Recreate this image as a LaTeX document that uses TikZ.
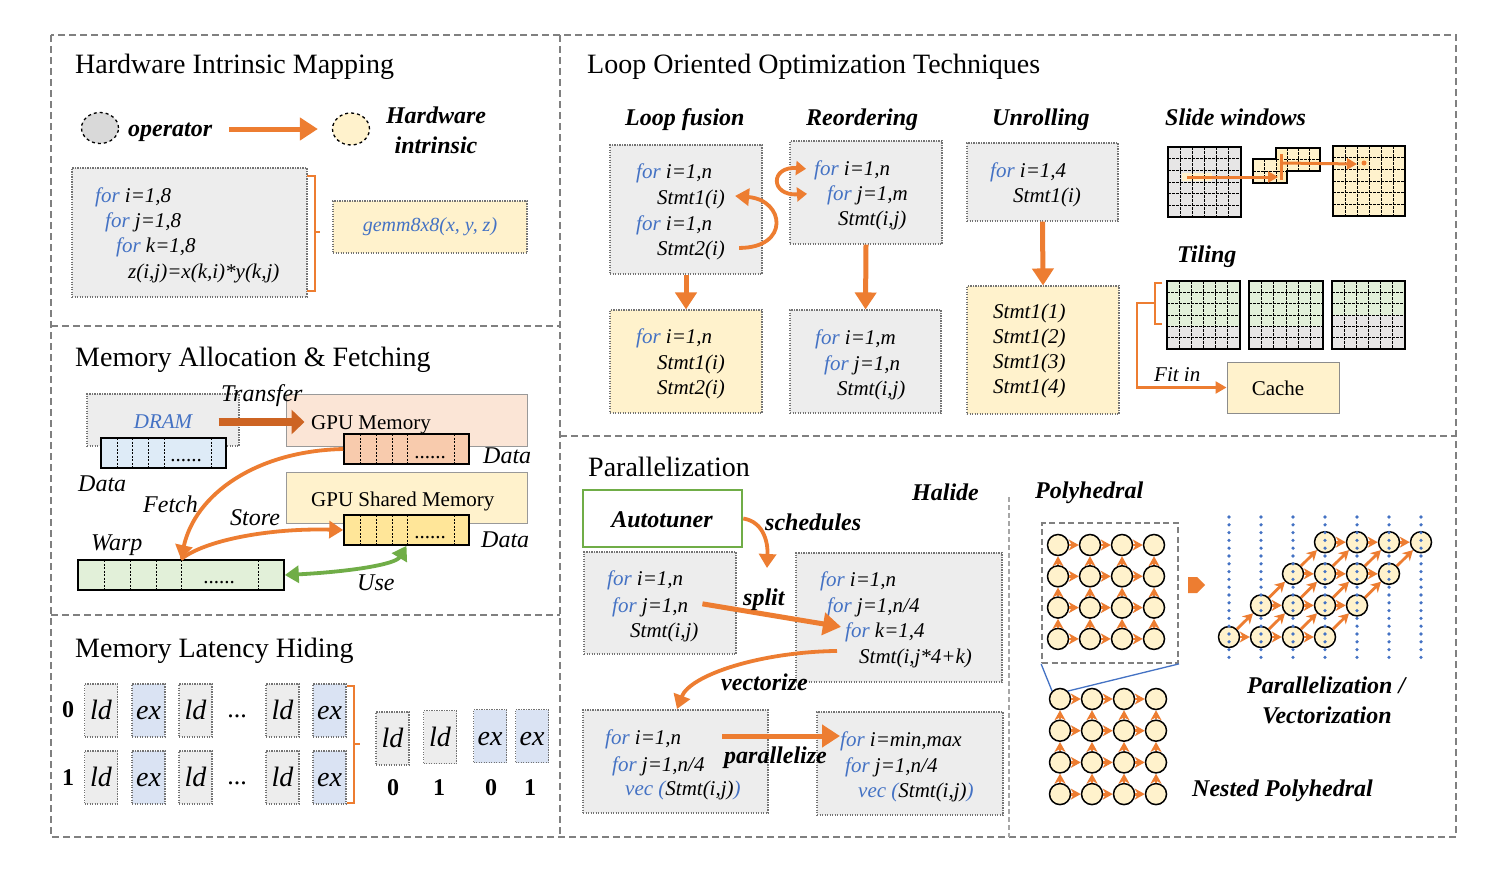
\documentclass[tikz,border=0pt]{standalone}
\usepackage{fontspec}
\setmainfont{Liberation Serif}
\usetikzlibrary{arrows.meta,shapes.geometric,calc}
\definecolor{orng}{RGB}{237,125,49}
\definecolor{kwblue}{RGB}{68,114,196}
\definecolor{boxgray}{RGB}{237,237,237}
\definecolor{ylw}{RGB}{255,242,204}
\definecolor{exblue}{RGB}{218,227,243}
\definecolor{dramblue}{RGB}{222,235,247}
\definecolor{grn}{RGB}{112,173,71}
\definecolor{grnfill}{RGB}{226,240,217}
\definecolor{peach}{RGB}{251,229,214}
\definecolor{peachdk}{RGB}{248,203,173}
\definecolor{ylwdk}{RGB}{255,230,153}
\definecolor{framegray}{RGB}{128,128,128}
\definecolor{opgray}{RGB}{217,217,217}
\definecolor{trbrown}{RGB}{205,100,35}
\definecolor{gridgray}{RGB}{231,230,230}
\definecolor{dotblue}{RGB}{68,114,196}
\newcommand\kw[1]{\textcolor{kwblue}{#1}}
\newcommand\gridcells[4]{%
  \foreach \k in {1,...,5} {
    \draw[gridline] ({#1+(#3-#1)*\k/6},#2) -- ({#1+(#3-#1)*\k/6},#4);
    \draw[gridline] (#1,{#2+(#4-#2)*\k/6}) -- (#3,{#2+(#4-#2)*\k/6});
  }
  \draw[line width=1.8pt] (#1,#2) rectangle (#3,#4);
}
\tikzset{
  frame/.style={draw=framegray, line width=2.4pt, dash pattern=on 7pt off 4pt},
  codebox/.style={draw=black!55, line width=1.1pt, dash pattern=on 1.2pt off 1.3pt, fill=boxgray, inner sep=0pt},
  ttl/.style={font=\fontsize{28}{32}\selectfont, inner sep=0pt, anchor=base west},
  hdr/.style={font=\fontsize{24}{28}\selectfont\bfseries\itshape, inner sep=0pt, anchor=base west},
  code/.style={font=\fontsize{21}{25}\selectfont\itshape, inner sep=0pt, anchor=base west},
  lbl/.style={font=\fontsize{24}{28}\selectfont\itshape, inner sep=0pt, anchor=base west},
  plain/.style={font=\fontsize{21}{25}\selectfont, inner sep=0pt, anchor=base west},
  dots/.style={font=\fontsize{21}{25}\selectfont, inner sep=0pt, anchor=base},
  arr/.style={draw=black, line width=1.6pt, inner sep=0pt},
  divider/.style={line width=0.9pt, dash pattern=on 2pt off 1.5pt},
  gridline/.style={line width=0.8pt, dash pattern=on 2.5pt off 1.5pt},
  bigarrow/.style={draw=orng, line width=5pt, -{Triangle[length=18pt,width=22pt]}},
  midarrow/.style={draw=orng, line width=3.8pt, -{Triangle[length=14pt,width=17pt]}},
  lbox/.style={codebox, minimum width=33pt, minimum height=53pt, font=\fontsize{28}{32}\selectfont\itshape, text height=18pt, text depth=0pt},
  circ/.style={circle, draw=black, line width=1.5pt, fill=ylw, minimum size=21pt, inner sep=0pt},
  parr/.style={draw=orng, line width=2.8pt, -{Stealth[length=10pt,width=11pt,inset=3pt]}},
  memb/.style={draw=black!40, line width=1pt, inner sep=0pt},
  dotline/.style={draw=dotblue, line width=3.6pt, dash pattern=on 0pt off 7.8pt, line cap=round},
  bluelink/.style={draw=kwblue, line width=1.3pt},
  brk/.style={draw=orng, line width=2.5pt},
}
\begin{document}
\begin{tikzpicture}[x=1pt,y=-1pt]
\useasboundingbox (0,0) rectangle (1506,870);
\fill[white] (0,0) rectangle (1506,870);

% ---------- frames ----------
\draw[frame] (51,35) rectangle (1456,837);
\draw[frame] (560,35) -- (560,837);
\draw[frame] (51,326) -- (560,326);
\draw[frame] (51,615) -- (560,615);
\draw[frame] (560,436) -- (1456,436);
\draw[draw=black!35, line width=1.2pt, dash pattern=on 5pt off 3pt] (1009,497) -- (1009,837);

% ---------- Hardware Intrinsic Mapping ----------
\node[ttl] (t1) at (75,73) {Hardware Intrinsic Mapping};
\node[ellipse, draw, dashed, line width=1.3pt, fill=opgray, minimum width=37pt, minimum height=31pt, inner sep=0pt] (op) at (100,128) {};
\node[hdr] (optxt) at (128,136) {operator};
\node[ellipse, draw, dashed, line width=1.3pt, fill=ylw, minimum width=37pt, minimum height=32pt, inner sep=0pt] (hw) at (351,129) {};
\node[hdr, anchor=base] (hwtxt1) at (436,123) {Hardware};
\node[hdr, anchor=base] (hwtxt2) at (436,153) {intrinsic};
\draw[bigarrow] ($(optxt.east |- hw.west)+(17,0)$) -- ($(hw.west)+(-14,0)$);

\node[codebox, minimum width=235pt, minimum height=129pt] (cb1) at (189.5,232.5) {};
\node[code] (c1a) at (95,202) {\kw{for} i=1,8};
\node[code] (c1b) at (105,227) {\kw{for} j=1,8};
\node[code] (c1c) at (116,252) {\kw{for} k=1,8};
\node[code] (c1d) at (128,278) {z(i,j)=x(k,i)*y(k,j)};
\draw[brk] (307,176) -- (315,176) -- (315,291) -- (307,291) (315,232) -- (320,232);
\node[codebox, fill=ylw, minimum width=194pt, minimum height=52pt, font=\fontsize{20}{24}\selectfont\itshape, text=kwblue] (gemm) at (430,227) {gemm8x8(x, y, z)};

% ---------- Memory Allocation & Fetching ----------
\node[ttl] (t2) at (75,366) {Memory Allocation \& Fetching};
\node[codebox, minimum width=152pt, minimum height=52pt] (dram) at (163,420) {};
\node[font=\fontsize{21}{25}\selectfont\itshape, text=kwblue, inner sep=0pt, anchor=base] (dramtxt) at (163,428) {DRAM};
\node[arr, fill=dramblue, minimum width=125pt, minimum height=30pt] (dramdata) at (163.5,453) {};
\foreach \x in {117,132,148,164,211} \draw[divider] (\x,438) -- (\x,468);
\node[dots] (dramdots) at (186,461) {......};

\node[memb, fill=peach, minimum width=241pt, minimum height=52pt] (gpumem) at (406.5,420) {};
\node[plain] (gpumemtxt) at (311,429) {GPU Memory};
\node[arr, fill=peachdk, minimum width=125pt, minimum height=30pt] (gpudata) at (406.5,449) {};
\foreach \x in {360,376,392,407,454} \draw[divider] (\x,434) -- (\x,464);
\node[dots] (gpudots) at (430,458) {......};

\node[memb, fill=ylw, minimum width=241pt, minimum height=51pt] (shmem) at (406.5,497.5) {};
\node[plain] (shmemtxt) at (311,506) {GPU Shared Memory};
\node[arr, fill=ylwdk, minimum width=125pt, minimum height=30pt] (sdata) at (406.5,530) {};
\foreach \x in {360,376,392,407,454} \draw[divider] (\x,515) -- (\x,545);
\node[dots] (sdots) at (430,538) {......};

\node[arr, fill=grnfill, minimum width=206pt, minimum height=30pt] (warp) at (181,575) {};
\foreach \x in {104,130,156,181,258} \draw[divider] (\x,560) -- (\x,590);
\node[dots] (warpdots) at (219,583) {......};

\draw[line width=8pt, draw=trbrown, -{Triangle[length=13pt,width=24pt]}] ($(dram.east)+(-21,2)$) -- ($(gpumem.west)+(19,2)$);
\draw[midarrow] (gpudata.west) .. controls (255,451) and (195,495) .. (warp.north);
\draw[midarrow] (warp.north) .. controls (205,540) and (270,528) .. (sdata.west);
\draw[draw=grn, line width=3.8pt, {Triangle[length=14pt,width=17pt]}-{Triangle[length=14pt,width=17pt]}] (warp.east) .. controls (345,572) and (395,565) .. (sdata.south);

\node[lbl] (transfer) at (221,401) {Transfer};
\node[lbl] (data1) at (483,463) {Data};
\node[lbl] (data0) at (78,491) {Data};
\node[lbl] (data2) at (481,547) {Data};
\node[lbl] (fetch) at (143,512) {Fetch};
\node[lbl] (store) at (230,525) {Store};
\node[lbl] (warptxt) at (91,550) {Warp};
\node[lbl] (use) at (357,590) {Use};

% ---------- Memory Latency Hiding ----------
\node[ttl] (t3) at (75,657) {Memory Latency Hiding};
\node[lbox] (l0a) at (101,710.5) {ld};
\node[lbox, fill=exblue] (l0b) at (148.5,710.5) {ex};
\node[lbox] (l0c) at (195.5,710.5) {ld};
\node[lbox] (l0d) at (282.5,710.5) {ld};
\node[lbox, fill=exblue] (l0e) at (329.5,710.5) {ex};
\node[lbox] (l1a) at (101,777.5) {ld};
\node[lbox, fill=exblue] (l1b) at (148.5,777.5) {ex};
\node[lbox] (l1c) at (195.5,777.5) {ld};
\node[lbox] (l1d) at (282.5,777.5) {ld};
\node[lbox, fill=exblue] (l1e) at (329.5,777.5) {ex};
\node[dots, font=\fontsize{26}{30}\selectfont] (ell0) at (237,717) {...};
\node[dots, font=\fontsize{26}{30}\selectfont] (ell1) at (237,784) {...};
\node[dots, font=\fontsize{24}{28}\selectfont\bfseries] (row0) at (68,717) {0};
\node[dots, font=\fontsize{24}{28}\selectfont\bfseries] (row1) at (68,785) {1};
\draw[brk] (347,686) -- (354,686) -- (354,803) -- (347,803) (354,744) -- (360,744);
\node[lbox] (r0) at (392.5,738.5) {ld};
\node[lbox] (r1) at (440,737) {ld};
\node[lbox, fill=exblue] (r2) at (490,736) {ex};
\node[lbox, fill=exblue] (r3) at (532,736) {ex};
\node[dots, font=\fontsize{24}{28}\selectfont\bfseries] (n0) at (393,795) {0};
\node[dots, font=\fontsize{24}{28}\selectfont\bfseries] (n1) at (439,795) {1};
\node[dots, font=\fontsize{24}{28}\selectfont\bfseries] (n2) at (491,795) {0};
\node[dots, font=\fontsize{24}{28}\selectfont\bfseries] (n3) at (530,795) {1};

% ---------- Loop Oriented Optimization Techniques ----------
\node[ttl] (t4) at (587,73) {Loop Oriented Optimization Techniques};
\node[hdr] (hlf) at (625,125) {Loop fusion};
\node[hdr] (hro) at (806,125) {Reordering};
\node[hdr] (hun) at (992,125) {Unrolling};
\node[hdr] (hsw) at (1165,125) {Slide windows};
\node[hdr] (hti) at (1177,262) {Tiling};

\node[codebox, minimum width=152pt, minimum height=129pt] (lf1) at (686,209.5) {};
\node[code] (lf1a) at (636,178) {\kw{for} i=1,n};
\node[code] (lf1b) at (657,204) {Stmt1(i)};
\node[code] (lf1c) at (636,230) {\kw{for} i=1,n};
\node[code] (lf1d) at (657,255) {Stmt2(i)};
\draw[midarrow] ($(lf1d.east)+(14,-2)$) .. controls (790,248) and (785,200) .. ($(lf1b.east)+(10,-3)$);
\node[codebox, fill=ylw, minimum width=152pt, minimum height=103pt] (lf2) at (686,361.5) {};
\node[code] (lf2a) at (636,343) {\kw{for} i=1,n};
\node[code] (lf2b) at (657,369) {Stmt1(i)};
\node[code] (lf2c) at (657,394) {Stmt2(i)};
\draw[bigarrow, -{Triangle[length=17pt,width=21pt]}] (lf1.south) -- (lf2.north);

\node[codebox, minimum width=152pt, minimum height=103pt] (ro1) at (866,192.5) {};
\node[code] (ro1a) at (814,175) {\kw{for} i=1,n};
\node[code] (ro1b) at (827,200) {\kw{for} j=1,m};
\node[code] (ro1c) at (838,225) {Stmt(i,j)};
\draw[draw=orng, line width=3.8pt, {Triangle[length=10pt,width=14pt]}-{Triangle[length=10pt,width=14pt]}] ($(ro1a.west)+(-8,-1)$) .. controls (770,166) and (770,196) .. ($(ro1b.west)+(-20,-1)$);
\node[codebox, minimum width=151pt, minimum height=103pt] (ro2) at (865.5,361.5) {};
\node[code] (ro2a) at (815,344) {\kw{for} i=1,m};
\node[code] (ro2b) at (824,370) {\kw{for} j=1,n};
\node[code] (ro2c) at (837,395) {Stmt(i,j)};
\draw[bigarrow, -{Triangle[length=17pt,width=21pt]}] (ro1.south) -- (ro2.north);

\node[codebox, minimum width=151pt, minimum height=78pt] (un1) at (1042.5,182) {};
\node[code] (un1a) at (990,177) {\kw{for} i=1,4};
\node[code] (un1b) at (1013,202) {Stmt1(i)};
\node[codebox, fill=ylw, minimum width=152pt, minimum height=128pt] (un2) at (1043,350) {};
\node[code] (un2a) at (993,318) {Stmt1(1)};
\node[code] (un2b) at (993,343) {Stmt1(2)};
\node[code] (un2c) at (993,368) {Stmt1(3)};
\node[code] (un2d) at (993,393) {Stmt1(4)};
\draw[bigarrow, -{Triangle[length=17pt,width=21pt]}] (un1.south) -- (un2.north);

% slide windows
\fill[gridgray] (1168,147) rectangle (1241,217);
\fill[ylw] (1182,173) rectangle (1212,181);
\gridcells{1168}{147}{1241}{217}
\fill[ylw] (1253,159) rectangle (1287,183);
\fill[ylw] (1276,148) rectangle (1320,171);
\fill[ylwdk!70] (1277,150) rectangle (1287,182);
\foreach \x in {1264.5,1276} \draw[gridline] (\x,159) -- (\x,183);
\draw[gridline] (1253,171) -- (1287,171);
\foreach \x in {1287,1298,1309} \draw[gridline] (\x,148) -- (\x,171);
\draw[gridline] (1276,159.5) -- (1320,159.5);
\draw[line width=1.8pt] (1253,159) -- (1276,159) -- (1276,148) -- (1320,148) -- (1320,171) -- (1287,171) -- (1287,183) -- (1253,183) -- cycle;
\fill[ylw] (1333,146) rectangle (1405,216);
\fill[ylwdk!70] (1358,157) rectangle (1369,169);
\gridcells{1333}{146}{1405}{216}
\fill[orng] (1364,163) circle (2.5pt);
\draw[draw=orng, line width=3pt, -{Triangle[length=10pt,width=11pt]}] (1187,177) -- (1278,177);
\draw[draw=orng, line width=3pt] (1281,154) -- (1281,180);
\draw[draw=orng, line width=3pt, -{Triangle[length=10pt,width=11pt]}] (1282,163) -- (1357,164);

% tiling
\fill[gridgray] (1167,281) rectangle (1240,349);
\fill[grnfill] (1167,281) rectangle (1240,326);
\gridcells{1167}{281}{1240}{349}
\fill[gridgray] (1249,281) rectangle (1323,349);
\fill[grnfill] (1249,281) rectangle (1323,326);
\gridcells{1249}{281}{1323}{349}
\fill[gridgray] (1332,281) rectangle (1405,349);
\fill[grnfill] (1332,281) rectangle (1405,315);
\gridcells{1332}{281}{1405}{349}
\draw[brk] (1162,283) -- (1155,283) -- (1155,324) -- (1162,324);
\node[draw=black!45, line width=1pt, fill=ylw, minimum width=112pt, minimum height=51pt, inner sep=0pt] (cache) at (1283,387.5) {};
\node[plain, anchor=base] (cachetxt) at (1278,395) {Cache};
\coordinate (fitstart) at (1155,303);
\draw[draw=orng, line width=2.5pt, -{Triangle[length=11pt,width=12pt]}] (fitstart) -- (1137,303) |- (cache.west);
\node[code] (fitin) at (1154,381) {Fit in};

% ---------- Parallelization ----------
\node[ttl] (t5) at (588,476) {Parallelization};
\node[hdr] (halide) at (912,500) {Halide};
\node[draw=grn, line width=2.5pt, fill=white, minimum width=159pt, minimum height=57pt, inner sep=0pt] (auto) at (662.5,518.5) {};
\node[hdr, anchor=base] (autotxt) at (662,527) {Autotuner};
\coordinate (schedend) at (767,568);
\draw[midarrow] (auto.east) .. controls (765,522) and (768,545) .. (schedend);
\node[hdr] (sched) at (765,530) {schedules};

\node[codebox, minimum width=152pt, minimum height=102pt] (pa) at (660,603) {};
\node[code] (paa) at (607,585) {\kw{for} i=1,n};
\node[code] (pab) at (612,612) {\kw{for} j=1,n};
\node[code] (pac) at (630,637) {Stmt(i,j)};

\node[codebox, minimum width=206pt, minimum height=129pt] (pb) at (899,617.5) {};
\node[code] (pba) at (820,586) {\kw{for} i=1,n};
\node[code] (pbb) at (827,612) {\kw{for} j=1,n/4};
\node[code] (pbc) at (845,637) {\kw{for} k=1,4};
\node[code] (pbd) at (859,663) {Stmt(i,j*4+k)};

\node[codebox, minimum width=185pt, minimum height=103pt] (pc) at (675.5,761.5) {};
\node[code] (pca) at (605,744) {\kw{for} i=1,n};
\node[code] (pcb) at (612,771) {\kw{for} j=1,n/4};
\node[code] (pcc) at (625,795) {\kw{vec (}Stmt(i,j)\kw{)}};

\node[codebox, minimum width=186pt, minimum height=103pt] (pd) at (910,763.5) {};
\node[code] (pda) at (840,746) {\kw{for} i=min,max};
\node[code] (pdb) at (845,772) {\kw{for} j=1,n/4};
\node[code] (pdc) at (858,797) {\kw{vec (}Stmt(i,j)\kw{)}};

\draw[bigarrow] ($(pab.east)+(14,-3)$) -- ($(pbc.west)+(-4,-5)$);
\node[hdr] (split) at (743,605) {split};
\coordinate (vecend) at (677,709);
\draw[midarrow] ($(pbd.west)+(-22,-7)$) .. controls (760,652) and (690,675) .. (vecend);
\node[hdr] (vect) at (721,690) {vectorize};
\coordinate (parstart) at (722,736);
\draw[bigarrow] (parstart) -- (parstart -| pda.west);
\node[hdr] (paral) at (724,763) {parallelize};

% ---------- Polyhedral ----------
\node[hdr] (poly) at (1035,498) {Polyhedral};
\node[draw=framegray, line width=1.8pt, dash pattern=on 6pt off 3.5pt, minimum width=136pt, minimum height=140pt, inner sep=0pt] (polybox) at (1110,593) {};
\foreach \i in {0,...,3} \foreach \j in {0,...,3} {
  \node[circ] (T-\i-\j) at ({1058+32*\i},{545+31.3*\j}) {};
  \node[circ] (B-\i-\j) at ({1060+32*\i},{699+31.7*\j}) {};
}
\foreach \i in {0,1,2} \foreach \j in {0,...,3} {
  \pgfmathtruncatemacro\ni{\i+1}
  \draw[parr] (T-\i-\j) -- (T-\ni-\j);
  \draw[parr] (B-\i-\j) -- (B-\ni-\j);
}
\foreach \i in {0,...,3} \foreach \j in {1,2,3} {
  \pgfmathtruncatemacro\nj{\j-1}
  \draw[parr] (T-\i-\j) -- (T-\i-\nj);
  \draw[parr] (B-\i-\j) -- (B-\i-\nj);
}
\draw[bluelink] (polybox.south west) -- (B-0-0.135);
\draw[bluelink] (polybox.south east) -- (B-0-0.45);
\fill[orng] (1188,577) -- (1197,577) -- (1205,585) -- (1197,593) -- (1188,593) -- cycle;

\foreach \r in {0,...,3} \foreach \k in {0,...,3} {
  \pgfmathtruncatemacro\cc{\r+\k}
  \node[circ] (R-\r-\cc) at ({1229+32*\cc},{637-31.6*\r}) {};
}
\foreach \r in {0,...,3} \foreach \k in {0,1,2} {
  \pgfmathtruncatemacro\cc{\r+\k}
  \pgfmathtruncatemacro\nc{\r+\k+1}
  \draw[parr] (R-\r-\cc) -- (R-\r-\nc);
}
\foreach \r in {0,1,2} \foreach \k in {0,...,3} {
  \pgfmathtruncatemacro\cc{\r+\k}
  \pgfmathtruncatemacro\nc{\r+\k+1}
  \pgfmathtruncatemacro\nr{\r+1}
  \draw[parr] (R-\r-\cc) -- (R-\nr-\nc);
}
\foreach \k in {0,...,6} \draw[dotline] ({1229+32*\k},517) -- ({1229+32*\k},660);

\node[hdr] (pv1) at (1247,693) {Parallelization /};
\node[hdr] (pv2) at (1262,723) {Vectorization};
\node[hdr] (nested) at (1192,796) {Nested Polyhedral};
\end{tikzpicture}
\end{document}
